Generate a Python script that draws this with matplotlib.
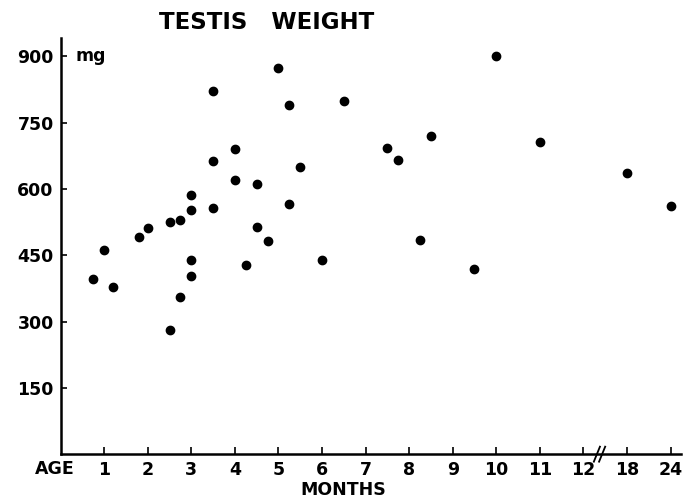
import numpy as np
import matplotlib.pyplot as plt
from matplotlib.transforms import blended_transform_factory

# age in months, testis weight in mg
age_months = [0.75, 1, 1.2, 1.8, 2, 2.5, 2.5, 2.75, 2.75, 3, 3, 3, 3,
              3.5, 3.5, 3.5, 4, 4, 4.25, 4.5, 4.5, 4.75, 5, 5.25, 5.25,
              5.5, 6, 6.5, 7.5, 7.75, 8.25, 8.5, 9.5, 10, 11, 18, 24]
weight_mg = [397, 462, 379, 491, 512, 525, 280, 530, 356, 587, 553, 440, 403,
             821, 663, 558, 690, 621, 428, 611, 513, 483, 873, 790, 566,
             650, 439, 800, 692, 666, 484, 719, 420, 901, 706, 636, 562]

tick_months = [1, 2, 3, 4, 5, 6, 7, 8, 9, 10, 11, 12, 18, 24]
y_ticks = [150, 300, 450, 600, 750, 900]

# broken axis: months 1..12 are linear, 18 and 24 get one slot each
after_break = {18: 13, 24: 14}


def month_to_pos(m):
    if m <= 12:
        return m
    return after_break[m]


x_pos = [month_to_pos(m) for m in age_months]
tick_pos = [month_to_pos(m) for m in tick_months]

fig = plt.figure(figsize=(6.97, 4.98), dpi=100)
ax = fig.add_axes([0.087, 0.088, 0.890, 0.836])

ax.scatter(x_pos, weight_mg, s=36, color='black', zorder=3)

ax.set_xlim(0, 14.24)
ax.set_ylim(0, 942)

for side in ['top', 'right']:
    ax.spines[side].set_visible(False)
for side in ['left', 'bottom']:
    ax.spines[side].set_linewidth(1.8)

ax.set_xticks(tick_pos)
ax.set_xticklabels([str(m) for m in tick_months])
ax.set_yticks(y_ticks)
ax.set_yticklabels([str(v) for v in y_ticks])
ax.tick_params(axis='x', direction='in', length=5, width=1.2, pad=5,
               labelsize=12.5)
ax.tick_params(axis='y', direction='in', length=4, width=1.2, pad=5,
               labelsize=12.5)
for lab in ax.get_xticklabels() + ax.get_yticklabels():
    lab.set_fontweight('bold')

# axis break marks between 12 and 18
tr = blended_transform_factory(ax.transData, ax.transAxes)
for dx in [-0.06, 0.06]:
    ax.plot([12.3 + dx, 12.44 + dx], [-0.018, 0.018], color='black', lw=1.3,
            transform=tr, clip_on=False)

ax.text(0.34, 900, 'mg', fontsize=12.5, fontweight='bold', va='center',
        ha='left')
fig.text(0.382, 0.955, 'TESTIS   WEIGHT', fontsize=16.5, fontweight='bold',
         ha='center', va='center')
fig.text(0.078, 0.058, 'AGE', fontsize=12.5, fontweight='bold', ha='center',
         va='center')
fig.text(0.493, 0.016, 'MONTHS', fontsize=12.5, fontweight='bold',
         ha='center', va='center')

fig.savefig('out.png', dpi=100)
